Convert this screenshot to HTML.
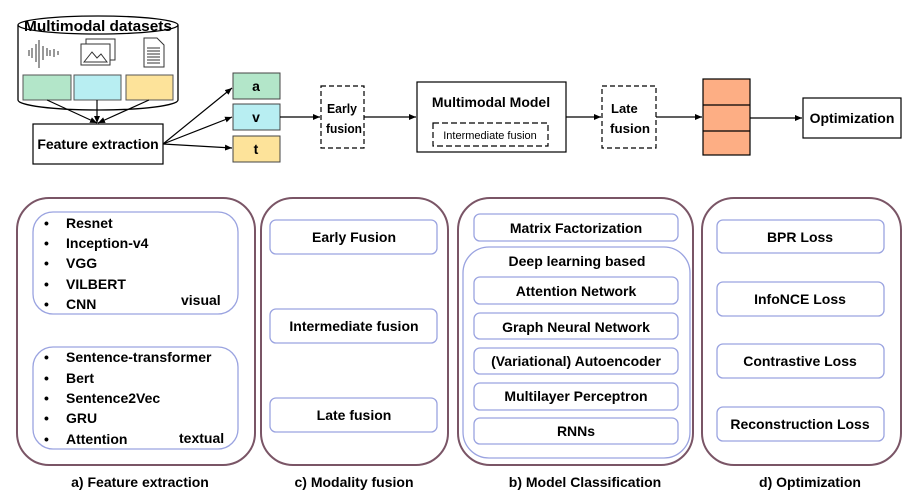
<!DOCTYPE html>
<html><head><meta charset="utf-8"><style>
html,body{margin:0;padding:0;background:#fff;}
svg{display:block;font-family:"Liberation Sans",sans-serif;font-weight:bold;}
</style></head><body>
<svg width="915" height="500" viewBox="0 0 915 500" xmlns="http://www.w3.org/2000/svg">
<defs>
<marker id="ar" markerWidth="8" markerHeight="8" refX="7" refY="4" orient="auto" markerUnits="userSpaceOnUse"><path d="M0,1 L7,4 L0,7 z" fill="#000"/></marker>
</defs>
<g fill="none" stroke="#000" stroke-width="1.3">
<path d="M18,25 L18,100 A80,10 0 0 0 178,100 L178,25" fill="#fff"/>
<ellipse cx="98" cy="25" rx="80" ry="9" fill="#fff"/>
</g>
<text x="98" y="31" font-size="15" text-anchor="middle" textLength="148" lengthAdjust="spacingAndGlyphs">Multimodal datasets</text>
<g stroke="#333" stroke-width="1">
<path d="M29,50v6M32,48v10M36,44v18M39,40v28M43,46v14M47,48v8M50,50v6M54,49v8M58,51v4"/>
</g>
<g fill="#fff" stroke="#333" stroke-width="1">
<rect x="86" y="39" width="29" height="21"/>
<rect x="81" y="44" width="29" height="21"/>
<path d="M84,62 L92,52 L97,58 L101,54 L107,62 z"/>
<path d="M144,38 h13 l7,7 v22 h-20 z"/>
<path d="M147,48h13M147,51h13M147,54h13M147,57h13M147,60h13M147,63h13"/>
</g>
<g stroke="#555" stroke-width="1">
<rect x="23" y="75" width="48" height="25" fill="#b3e6c9"/>
<rect x="74" y="75" width="47" height="25" fill="#b8eef2"/>
<rect x="126" y="75" width="47" height="25" fill="#fde39a"/>
</g>
<g stroke="#000" stroke-width="1.2" fill="none">
<line x1="47" y1="100" x2="97" y2="123" marker-end="url(#ar)"/>
<line x1="97" y1="100" x2="97" y2="123" marker-end="url(#ar)"/>
<line x1="149" y1="100" x2="98" y2="123" marker-end="url(#ar)"/>
<rect x="33" y="124" width="130" height="40" fill="#fff"/>
<line x1="163" y1="144" x2="232" y2="88" marker-end="url(#ar)"/>
<line x1="163" y1="144" x2="232" y2="117" marker-end="url(#ar)"/>
<line x1="163" y1="144" x2="232" y2="148" marker-end="url(#ar)"/>
</g>
<text x="98" y="149" font-size="14" text-anchor="middle">Feature extraction</text>
<g stroke="#444" stroke-width="1">
<rect x="233" y="73" width="47" height="26" fill="#b3e6c9"/>
<rect x="233" y="104" width="47" height="26" fill="#b8eef2"/>
<rect x="233" y="136" width="47" height="26" fill="#fde39a"/>
</g>
<g font-size="14" text-anchor="middle">
<text x="256" y="91">a</text><text x="256" y="122">v</text><text x="256" y="154">t</text>
</g>
<g stroke="#000" stroke-width="1.2" fill="none">
<line x1="280" y1="117" x2="320" y2="117" marker-end="url(#ar)"/>
<rect x="321" y="86" width="43" height="62" stroke-dasharray="5,3"/>
<line x1="364" y1="117" x2="416" y2="117" marker-end="url(#ar)"/>
<rect x="417" y="82" width="149" height="70"/>
<rect x="433" y="123" width="115" height="23" stroke-dasharray="6,3"/>
<line x1="566" y1="117" x2="601" y2="117" marker-end="url(#ar)"/>
<rect x="602" y="86" width="54" height="62" stroke-dasharray="5,3"/>
<line x1="656" y1="117" x2="702" y2="117" marker-end="url(#ar)"/>
<rect x="703" y="79" width="47" height="76" fill="#fdae84"/>
<line x1="703" y1="105" x2="750" y2="105"/>
<line x1="703" y1="131" x2="750" y2="131"/>
<line x1="750" y1="118" x2="802" y2="118" marker-end="url(#ar)"/>
<rect x="803" y="98" width="98" height="40"/>
</g>
<g font-size="13">
<text x="327" y="113" textLength="30" lengthAdjust="spacingAndGlyphs">Early</text><text x="326" y="133" textLength="36" lengthAdjust="spacingAndGlyphs">fusion</text>
<text x="611" y="113">Late</text><text x="610" y="133" textLength="40" lengthAdjust="spacingAndGlyphs">fusion</text>
</g>
<g font-size="14">
<text x="491" y="107" text-anchor="middle">Multimodal Model</text>
<text x="490" y="139" text-anchor="middle" font-size="11" font-weight="normal">Intermediate fusion</text>
<text x="852" y="123" text-anchor="middle">Optimization</text>
</g>
<g fill="none" stroke="#7a5566" stroke-width="2">
<rect x="17" y="198" width="238" height="267" rx="32"/>
<rect x="261" y="198" width="187" height="267" rx="32"/>
<rect x="458" y="198" width="235" height="267" rx="32"/>
<rect x="702" y="198" width="199" height="267" rx="32"/>
</g>
<g fill="#fff" stroke="#9aa3e0" stroke-width="1.3">
<rect x="33" y="212" width="205" height="102" rx="20"/>
<rect x="33" y="347" width="205" height="102" rx="20"/>
<rect x="270" y="220" width="167" height="34" rx="6"/>
<rect x="270" y="309" width="167" height="34" rx="6"/>
<rect x="270" y="398" width="167" height="34" rx="6"/>
<rect x="474" y="214" width="204" height="27" rx="6"/>
<rect x="463" y="247" width="227" height="211" rx="26"/>
<rect x="474" y="277" width="204" height="27" rx="6"/>
<rect x="474" y="313" width="204" height="26" rx="6"/>
<rect x="474" y="348" width="204" height="26" rx="6"/>
<rect x="474" y="383" width="204" height="27" rx="6"/>
<rect x="474" y="418" width="204" height="26" rx="6"/>
<rect x="717" y="220" width="167" height="33" rx="6"/>
<rect x="717" y="282" width="167" height="34" rx="6"/>
<rect x="717" y="344" width="167" height="34" rx="6"/>
<rect x="717" y="407" width="167" height="34" rx="6"/>
</g>
<g font-size="14">
<text x="44" y="228">•</text><text x="66" y="228">Resnet</text>
<text x="44" y="248">•</text><text x="66" y="248">Inception-v4</text>
<text x="44" y="268">•</text><text x="66" y="268">VGG</text>
<text x="44" y="289">•</text><text x="66" y="289">VILBERT</text>
<text x="44" y="309">•</text><text x="66" y="309">CNN</text>
<text x="181" y="305">visual</text>
<text x="44" y="362">•</text><text x="66" y="362">Sentence-transformer</text>
<text x="44" y="383">•</text><text x="66" y="383">Bert</text>
<text x="44" y="403">•</text><text x="66" y="403">Sentence2Vec</text>
<text x="44" y="423">•</text><text x="66" y="423">GRU</text>
<text x="44" y="444">•</text><text x="66" y="444">Attention</text>
<text x="179" y="443">textual</text>
</g>
<g font-size="14" text-anchor="middle">
<text x="354" y="242">Early Fusion</text>
<text x="354" y="331">Intermediate fusion</text>
<text x="354" y="420">Late fusion</text>
<text x="576" y="233">Matrix Factorization</text>
<text x="577" y="266">Deep learning based</text>
<text x="576" y="296">Attention Network</text>
<text x="576" y="332">Graph Neural Network</text>
<text x="576" y="366">(Variational) Autoencoder</text>
<text x="576" y="401">Multilayer Perceptron</text>
<text x="576" y="436">RNNs</text>
<text x="800" y="242">BPR Loss</text>
<text x="800" y="304">InfoNCE Loss</text>
<text x="800" y="366">Contrastive Loss</text>
<text x="800" y="429">Reconstruction Loss</text>
<text x="140" y="487">a) Feature extraction</text>
<text x="354" y="487">c) Modality fusion</text>
<text x="585" y="487">b) Model Classification</text>
<text x="810" y="487">d) Optimization</text>
</g>
</svg>
</body></html>
